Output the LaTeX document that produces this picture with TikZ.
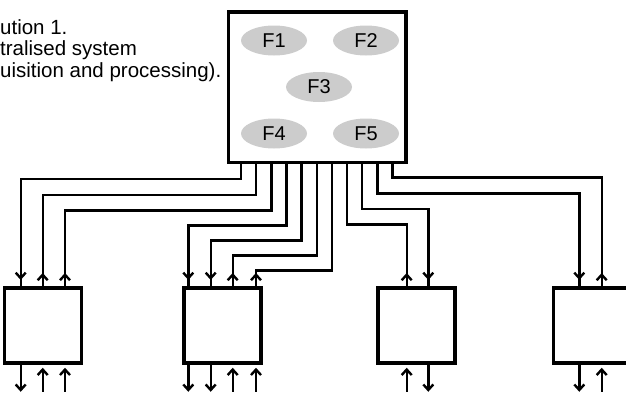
\documentclass[tikz,border=0pt]{standalone}
\usepackage{fontspec}
\setmainfont{Liberation Sans}
\usetikzlibrary{arrows.meta, shapes.geometric, decorations.markings}

\begin{document}
\begin{tikzpicture}[x=1pt, y=-1pt, >={Straight Barb[length=5.5pt,width=10pt]}]

  % Styles for boxes, functions and wires
  \tikzset{
    hubbox/.style={draw, line width=3.6pt, minimum width=177.4pt,
      minimum height=150.6pt, inner sep=0pt},
    unit/.style={draw, line width=3.6pt, minimum width=77pt,
      minimum height=74.7pt, inner sep=0pt},
    func/.style={ellipse, fill=gray!40, minimum width=66pt,
      minimum height=30pt, inner sep=0pt, font=\fontsize{20}{20}\selectfont},
    wire/.style={line width=2.4pt},
    tip down/.style={
      wire, postaction={decorate},
      decoration={markings, mark=at position -6.5pt with {\arrow{>}}}
    },
    tip up/.style={
      wire, postaction={decorate},
      decoration={markings, mark=at position 13.5pt with {\arrow{>}}}
    }
  }

  \useasboundingbox (0,0) rectangle (626,394);

  % Caption (cut at the left edge)
  \node[anchor=base west, align=left, inner sep=0pt,
    font=\fontsize{20.5}{21.5}\selectfont] (cap) at (0,77.3)
    {ution 1.\\tralised system\\uisition and processing).};

  % Central system with its functions
  \node[hubbox] (C) at (317,87) {};
  \node[func] (F1) at (274,40.5) {F1};
  \node[func] (F2) at (366,40.5) {F2};
  \node[func] (F3) at (319,87) {F3};
  \node[func] (F4) at (274,133.5) {F4};
  \node[func] (F5) at (366,133.5) {F5};

  % Field units
  \node[unit] (U1) at (42.8,325.6) {};
  \node[unit] (U2) at (222.5,325.6) {};
  \node[unit] (U3) at (416.2,325.6) {};
  \node[unit] (U4) at (591.8,325.6) {};

  % Wires from the central system down to the units
  \foreach \sx/\lev/\dx/\u in {241/179/20.7/U1, 286.5/225.5/188.3/U2,
      301.6/240.5/210.7/U2, 362.2/209/428.3/U3, 377.4/193.5/579.3/U4}
    \draw[tip down] (C.south -| \sx,0) |- (\dx,\lev) -- (\u.north -| \dx,0);

  % Wires from the units up to the central system
  \foreach \sx/\lev/\dx/\u in {256.2/195/42.7/U1, 271.3/210.5/65/U1,
      316.8/255.5/232.7/U2, 331.9/270.5/256/U2, 347.1/224.5/406.7/U3,
      392.5/177.5/601.7/U4}
    \draw[tip up] (\u.north -| \dx,0) |- (\sx,\lev) -- (C.south -| \sx,0);

  % Outputs and inputs below the units
  \foreach \dx/\u in {20.7/U1, 188.3/U2, 210.7/U2, 428.3/U3, 579.3/U4}
    \draw[wire, ->] (\u.south -| \dx,0) -- ++(0,27);
  \foreach \dx/\u in {42.7/U1, 65/U1, 232.7/U2, 256/U2, 406.7/U3, 601.7/U4}
    \draw[wire, <-, shorten <=3pt] (\u.south -| \dx,0) -- ++(0,27);

\end{tikzpicture}
\end{document}
